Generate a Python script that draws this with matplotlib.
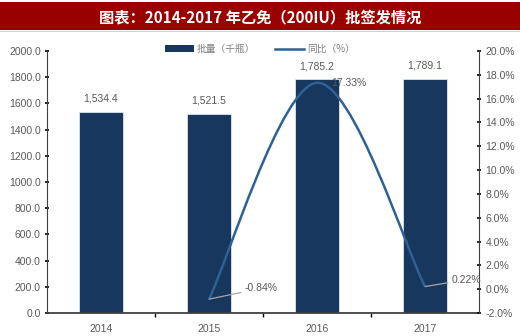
import matplotlib
matplotlib.use('Agg')
from matplotlib import pyplot
from matplotlib.patches import Patch, Rectangle, PathPatch
from matplotlib.lines import Line2D
from matplotlib.path import Path
import matplotlib.ticker as ticker

pyplot.rcParams['font.family'] = ['Liberation Sans', 'Noto Sans CJK SC', 'DejaVu Sans']

# данные
years = ['2014', '2015', '2016', '2017']
batches = [1534.4, 1521.5, 1785.2, 1789.1]      # 批量（千瓶）
yoy_idx = [1, 2, 3]                              # для 2014 нет значения
yoy = [-0.84, 17.33, 0.22]                       # 同比（%）

title = '图表：2014-2017 年乙免（200IU）批签发情况'
bar_color = '#17375e'
line_color = '#2f6193'
text_gray = '#595959'

fig = pyplot.figure(figsize=(5.2, 3.36), dpi=100)

# красная полоса заголовка
fig.patches.append(Rectangle((0, 1 - 30 / 336), 1, 28 / 336, transform=fig.transFigure,
                             facecolor='#990000', edgecolor='none', zorder=0))
fig.patches.append(Rectangle((0, 1 - 32 / 336), 1, 1.5 / 336, transform=fig.transFigure,
                             facecolor='#f2c4c4', edgecolor='none', zorder=0))
fig.text(0.5, 1 - 17 / 336, title, color='white', fontsize=11, fontweight='bold',
         ha='center', va='center', family=['Noto Sans CJK SC', 'DejaVu Sans'])

ax = fig.add_axes([47 / 520, 1 - 313 / 336, 432 / 520, 262 / 336])
x = list(range(len(years)))
bars = ax.bar(x, batches, width=0.41, color=bar_color, edgecolor='#dce6f1', linewidth=0.6, zorder=2)
for xi, v in zip(x, batches):
    ax.annotate(f'{v:,.1f}', (xi, v), xytext=(0, 13), textcoords='offset pixels',
                ha='center', va='center', fontsize=7.5, color=text_gray)

ax.set_xlim(-0.5, 3.5)
ax.set_ylim(0, 2000)
ax.yaxis.set_major_locator(ticker.MultipleLocator(200))
ax.yaxis.set_major_formatter(ticker.FormatStrFormatter('%.1f'))
ax.set_xticks(x)
ax.set_xticklabels(years)
ax.set_xticks([0.5, 1.5, 2.5], minor=True)
ax.tick_params(axis='x', which='major', length=0, labelsize=7.5, labelcolor=text_gray, pad=8)
ax.tick_params(axis='x', which='minor', length=3, width=1, direction='out')
ax.tick_params(axis='y', length=3, width=1.2, direction='inout', labelsize=7.5, labelcolor=text_gray, pad=3)
ax.spines['top'].set_visible(False)
ax.spines['right'].set_visible(False)
for s in ['left', 'bottom']:
    ax.spines[s].set_color('#404040')
ax.spines['bottom'].set_linewidth(1.3)

ax2 = ax.twinx()
ax2.set_ylim(-2, 20)
ax2.yaxis.set_major_locator(ticker.MultipleLocator(2))
ax2.yaxis.set_major_formatter(ticker.FormatStrFormatter('%.1f%%'))
ax2.tick_params(axis='y', length=3, width=1.2, direction='inout', labelsize=7.5, labelcolor=text_gray, pad=3)
for s in ['top', 'left', 'bottom']:
    ax2.spines[s].set_visible(False)
ax2.spines['right'].set_color('#404040')

# сглаженная линия (как в Excel): кубические кривые Безье через точки
pts = list(zip(yoy_idx, yoy))
verts = [pts[0]]
codes = [Path.MOVETO]
for i in range(len(pts) - 1):
    p0 = pts[i - 1] if i > 0 else pts[i]
    p1, p2 = pts[i], pts[i + 1]
    p3 = pts[i + 2] if i + 2 < len(pts) else pts[i + 1]
    c1 = (p1[0] + (p2[0] - p0[0]) / 6, p1[1] + (p2[1] - p0[1]) / 6)
    c2 = (p2[0] - (p3[0] - p1[0]) / 6, p2[1] - (p3[1] - p1[1]) / 6)
    verts += [c1, c2, p2]
    codes += [Path.CURVE4] * 3
ax2.add_patch(PathPatch(Path(verts, codes), facecolor='none', edgecolor=line_color,
                        linewidth=1.8, zorder=3))

# подписи процентов
offsets = {1: (36, 11), 2: (14, 0), 3: (27, 7)}
for xi, v in zip(yoy_idx, yoy):
    dx, dy = offsets[xi]
    arrow = dict(arrowstyle='-', color='#a6a6a6', lw=0.9, shrinkA=1, shrinkB=0) if xi != 2 else None
    ax2.annotate(f'{v:.2f}%', (xi, v), xytext=(dx, dy), textcoords='offset pixels',
                 ha='left', va='center', fontsize=7.5, color=text_gray, arrowprops=arrow)

# легенда
handles = [Patch(facecolor=bar_color, edgecolor='none'),
           Line2D([0], [0], color=line_color, linewidth=1.8)]
leg = fig.legend(handles, ['批量（千瓶）', '同比（%）'], loc='center', bbox_to_anchor=(0.5, 1 - 49 / 336),
                 ncol=2, frameon=False, handlelength=3, handleheight=0.6,
                 columnspacing=2, handletextpad=0.3, labelcolor='#7f7f7f',
                 prop={'family': ['Noto Sans CJK SC', 'DejaVu Sans'], 'size': 7})

fig.savefig('out.png', dpi=100)
